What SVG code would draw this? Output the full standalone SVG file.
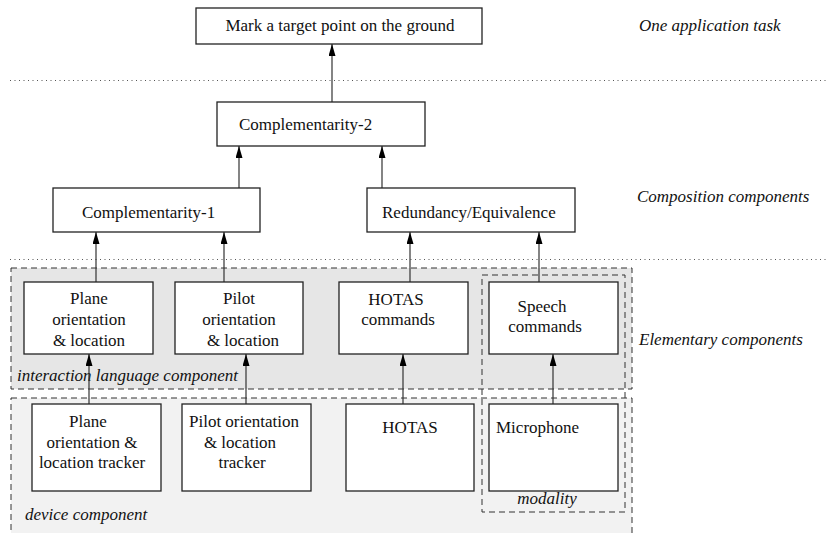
<svg xmlns="http://www.w3.org/2000/svg" width="826" height="533" viewBox="0 0 826 533">
<style>
.bx{fill:#fff;stroke:#222;stroke-width:1.3}
text{font-family:'Liberation Serif','Times New Roman','DejaVu Serif',serif;font-size:17px;fill:#111}
.c{text-anchor:middle}
.i{font-style:italic}
.dot{stroke:#555;stroke-width:1;stroke-dasharray:1,3.5;fill:none}
.dash{stroke:#333;stroke-width:1;stroke-dasharray:6,4}
.cn{stroke:#333;stroke-width:1.2;fill:none;marker-end:url(#ah)}
</style>
<defs>
<marker id="ah" markerUnits="userSpaceOnUse" markerWidth="12" markerHeight="7" refX="12" refY="3.5" orient="auto">
<path d="M0,0 L12,3.5 L0,7 z" fill="#000"/>
</marker>
</defs>
<rect width="826" height="533" fill="#fff"/>

<g id="layers">
<line class="dot" x1="10" y1="80.5" x2="826" y2="80.5"/>
<line class="dot" x1="10" y1="259.5" x2="826" y2="259.5"/>
<rect id="device-region" class="dash" x="11" y="398" width="621" height="160" fill="#f2f2f2"/>
<rect id="interaction-region" class="dash" x="11" y="268" width="621" height="121" fill="#e6e6e6"/>
<rect id="modality-region" class="dash" x="482" y="275" width="143" height="237" fill="none"/>
<text class="i" x="17" y="381">interaction language component</text>
<text class="i" x="25" y="520">device component</text>
<text class="i c" x="547" y="504">modality</text>
<text class="i" x="639" y="31">One application task</text>
<text class="i" x="637" y="202">Composition components</text>
<text class="i" x="639" y="345">Elementary components</text>
</g>

<g id="connectors">
<line class="cn" x1="332" y1="102" x2="332" y2="44"/>
<line class="cn" x1="239" y1="188" x2="239" y2="146"/>
<line class="cn" x1="382" y1="188" x2="382" y2="146"/>
<line class="cn" x1="96" y1="282" x2="96" y2="232"/>
<line class="cn" x1="224" y1="282" x2="224" y2="232"/>
<line class="cn" x1="410" y1="282" x2="410" y2="232"/>
<line class="cn" x1="539" y1="282" x2="539" y2="232"/>
<line class="cn" x1="89" y1="404" x2="89" y2="354"/>
<line class="cn" x1="246" y1="404" x2="246" y2="354"/>
<line class="cn" x1="403" y1="404" x2="403" y2="354"/>
<line class="cn" x1="553" y1="404" x2="553" y2="354"/>
</g>

<g id="task">
<rect class="bx" x="196" y="8" width="286" height="36"/>
<text class="c" x="340" y="31">Mark a target point on the ground</text>
</g>
<g id="comp2">
<rect class="bx" x="217" y="102" width="208" height="44"/>
<text x="239" y="130">Complementarity-2</text>
</g>
<g id="comp1">
<rect class="bx" x="53" y="188" width="207" height="44"/>
<text x="82" y="218">Complementarity-1</text>
</g>
<g id="redundancy">
<rect class="bx" x="367" y="188" width="208" height="44"/>
<text x="382" y="218">Redundancy/Equivalence</text>
</g>

<g id="plane-ol">
<rect class="bx" x="24" y="282" width="129" height="72"/>
<text class="c" x="89" y="304">Plane</text>
<text class="c" x="89" y="325">orientation</text>
<text class="c" x="89" y="346">&amp; location</text>
</g>
<g id="pilot-ol">
<rect class="bx" x="175" y="282" width="128" height="72"/>
<text class="c" x="239" y="304">Pilot</text>
<text class="c" x="239" y="325">orientation</text>
<text class="c" x="243" y="346">&amp; location</text>
</g>
<g id="hotas-cmd">
<rect class="bx" x="339" y="282" width="129" height="72"/>
<text class="c" x="396" y="305">HOTAS</text>
<text class="c" x="398" y="325">commands</text>
</g>
<g id="speech-cmd">
<rect class="bx" x="489" y="282" width="129" height="72"/>
<text class="c" x="542" y="312">Speech</text>
<text class="c" x="545" y="332">commands</text>
</g>

<g id="plane-tracker">
<rect class="bx" x="32" y="404" width="129" height="87"/>
<text class="c" x="88" y="427">Plane</text>
<text class="c" x="92" y="448">orientation &amp;</text>
<text class="c" x="92" y="468">location tracker</text>
</g>
<g id="pilot-tracker">
<rect class="bx" x="182" y="404" width="129" height="87"/>
<text class="c" x="244" y="427">Pilot orientation</text>
<text class="c" x="240" y="448">&amp; location</text>
<text class="c" x="242" y="468">tracker</text>
</g>
<g id="hotas">
<rect class="bx" x="346" y="404" width="128" height="87"/>
<text class="c" x="410" y="433">HOTAS</text>
</g>
<g id="microphone">
<rect class="bx" x="489" y="404" width="129" height="87"/>
<text x="496" y="433">Microphone</text>
</g>
</svg>
